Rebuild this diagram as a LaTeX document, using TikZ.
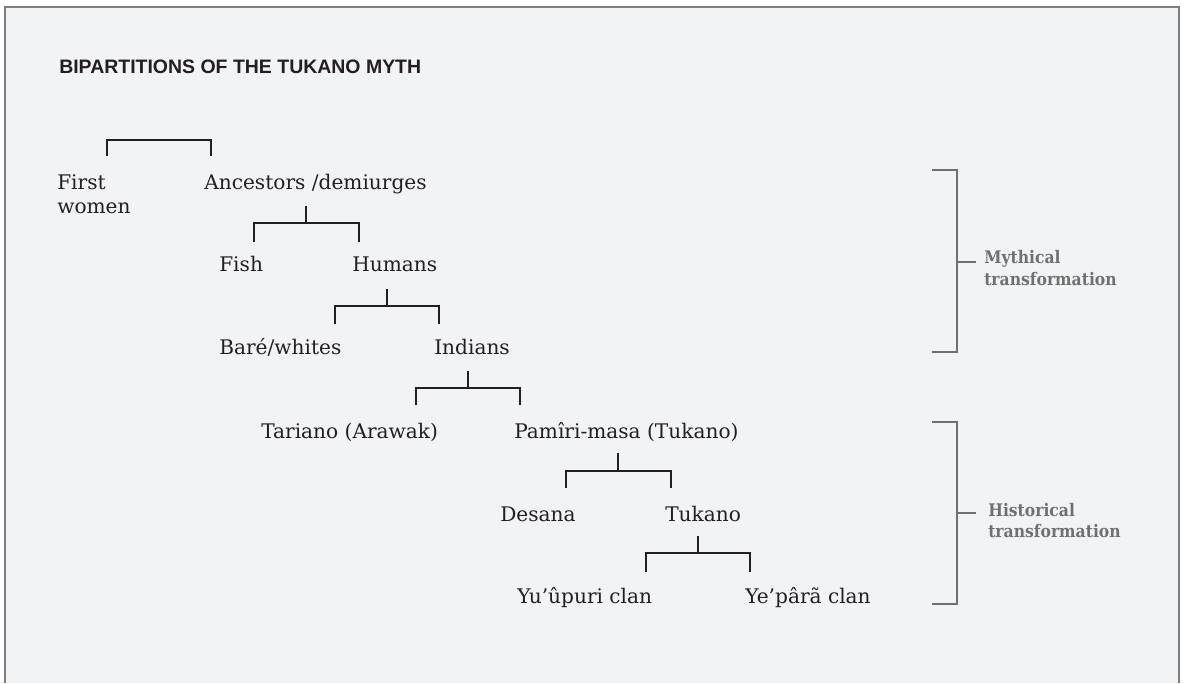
\documentclass[tikz,border=0pt]{standalone}
\usepackage{fontspec}
\setmainfont{DejaVu Serif}
\newfontfamily\titlefont{Liberation Sans}
\newfontfamily\labfont{DejaVu Serif Condensed}
\definecolor{bg}{HTML}{F2F3F5}
\definecolor{framec}{HTML}{7E7E7E}
\definecolor{ink}{HTML}{231F20}
\definecolor{sidec}{HTML}{707070}
\tikzset{
  term/.style={anchor=base west, inner sep=0pt, text=ink, font=\fontsize{15.1}{18}\selectfont},
  side/.style={anchor=base west, inner sep=0pt, text=sidec, font=\labfont\bfseries\fontsize{13}{16}\selectfont},
  tree/.style={draw=ink, line width=1.1pt},
  span/.style={draw=sidec, line width=1.7pt},
}
\begin{document}
\begin{tikzpicture}[x=0.75pt,y=-0.75pt]
\useasboundingbox (0,0) rectangle (1186,683);
\fill[white] (0,0) rectangle (1186,683);
\fill[bg] (5,7) rectangle (1179,683);
\draw[framec, line width=1.1pt] (5,683) -- (5,7) -- (1179,7) -- (1179,683);

\node[anchor=base west, inner sep=0pt, text=ink, font=\titlefont\bfseries\fontsize{14.6}{16}\selectfont] (title) at (59,73) {BIPARTITIONS OF THE TUKANO MYTH};

\node[term] (first) at (57,189) {First};
\node[term] (women) at (57,213) {women};
\node[term] (anc) at (204,189) {Ancestors /demiurges};
\node[term] (fish) at (219,271) {Fish};
\node[term] (hum) at (352,271) {Humans};
\node[term] (bare) at (219,354) {Baré/whites};
\node[term] (ind) at (434,354) {Indians};
\node[term] (tar) at (261,438) {Tariano (Arawak)};
\node[term] (pam) at (514,438) {Pamîri-masa (Tukano)};
\node[term] (des) at (500,521) {Desana};
\node[term] (tuk) at (665,521) {Tukano};
\node[term] (yu) at (517,603) {Yu’ûpuri clan};
\node[term] (ye) at (745,603) {Ye’pârã clan};

\node[side] (myth1) at (984,263) {Mythical};
\node[side] (myth2) at (984,285) {transformation};
\node[side] (hist1) at (988,516) {Historical};
\node[side] (hist2) at (988,537) {transformation};

% tree connectors
\coordinate (b0l) at (107,156); \coordinate (b0r) at (211,156);
\draw[tree] (b0l) -- ++(0,-16) -| (b0r);

\coordinate (s1) at (306,206); \coordinate (j1) at (306,223);
\coordinate (l1) at (254,242); \coordinate (r1) at (359,242);
\draw[tree] (s1) -- (j1); \draw[tree] (l1) |- (j1) -| (r1);

\coordinate (s2) at (387,289); \coordinate (j2) at (387,306);
\coordinate (l2) at (335,324); \coordinate (r2) at (439,324);
\draw[tree] (s2) -- (j2); \draw[tree] (l2) |- (j2) -| (r2);

\coordinate (s3) at (468,371); \coordinate (j3) at (468,388);
\coordinate (l3) at (416,405); \coordinate (r3) at (520,405);
\draw[tree] (s3) -- (j3); \draw[tree] (l3) |- (j3) -| (r3);

\coordinate (s4) at (618,453); \coordinate (j4) at (618,471);
\coordinate (l4) at (566,488); \coordinate (r4) at (671,488);
\draw[tree] (s4) -- (j4); \draw[tree] (l4) |- (j4) -| (r4);

\coordinate (s5) at (698,536); \coordinate (j5) at (698,553);
\coordinate (l5) at (646,572); \coordinate (r5) at (750,572);
\draw[tree] (s5) -- (j5); \draw[tree] (l5) |- (j5) -| (r5);

% side brackets
\coordinate (mt) at (932,170); \coordinate (mb) at (932,352);
\coordinate (mm) at (957,262); \coordinate (mk) at (976,262);
\draw[span] (mt) -- (957,170) -- (957,352) -- (mb);
\draw[span] (mm) -- (mk);

\coordinate (ht) at (932,422); \coordinate (hb) at (932,604);
\coordinate (hm) at (957,513); \coordinate (hk) at (976,513);
\draw[span] (ht) -- (957,422) -- (957,604) -- (hb);
\draw[span] (hm) -- (hk);
\end{tikzpicture}
\end{document}
